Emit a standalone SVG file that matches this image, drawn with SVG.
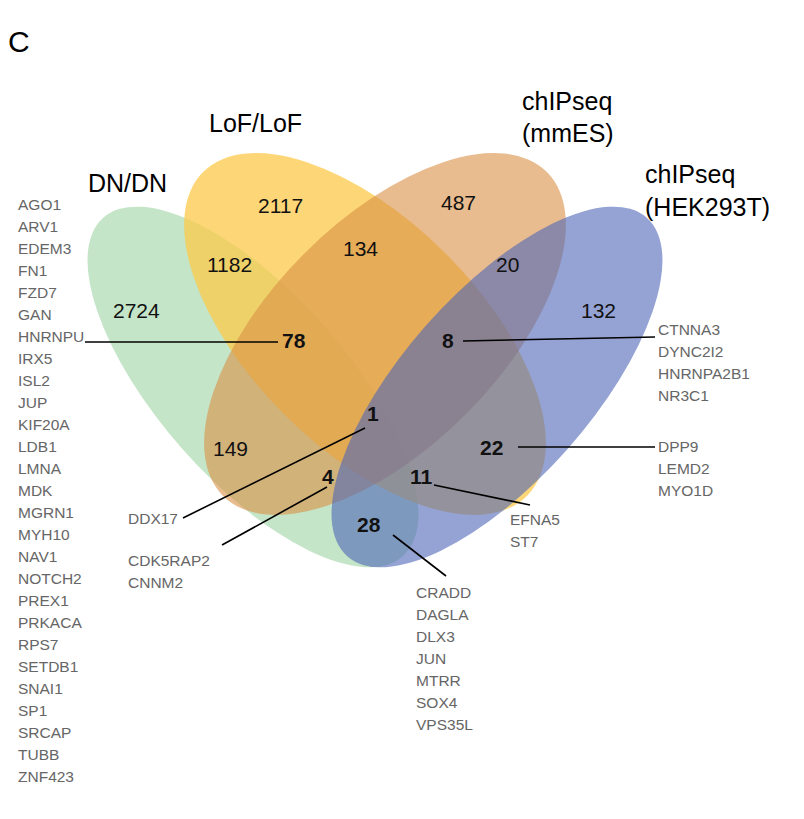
<svg xmlns="http://www.w3.org/2000/svg" width="804" height="819" viewBox="0 0 804 819">
<style>
text{font-family:"Helvetica","Liberation Sans",Arial,sans-serif}
.t{font-size:25px;fill:#000}
.n{font-size:21px;fill:#111}
.b{font-weight:bold}
.g{font-size:15.5px;fill:#666}
.e{stroke:none}
.c line{stroke:#000;stroke-width:1.6}
</style>
<rect width="804" height="819" fill="#fff"/>
<text x="8" y="52" style="font-size:30px">C</text>
<g id="dn"><ellipse class="e" cx="253" cy="387" rx="226" ry="94" transform="rotate(48.5 253 387)" fill="#9fd3a4" fill-opacity="0.6"/></g>
<g id="lof"><ellipse class="e" cx="365" cy="334" rx="229" ry="114" transform="rotate(45 365 334)" fill="#fcc94a" fill-opacity="0.75"/></g>
<g id="mmes"><ellipse class="e" cx="385" cy="334" rx="229" ry="114" transform="rotate(-45 385 334)" fill="#d98f45" fill-opacity="0.6"/></g>
<g id="hek"><ellipse class="e" cx="497" cy="387" rx="226" ry="94" transform="rotate(-48.5 497 387)" fill="#4f66b8" fill-opacity="0.6"/></g>
<text class="t" x="88" y="192">DN/DN</text>
<text class="t" x="209" y="132">LoF/LoF</text>
<text class="t" x="522" y="110">chIPseq</text>
<text class="t" x="522" y="142">(mmES)</text>
<text class="t" x="645" y="183">chIPseq</text>
<text class="t" x="645" y="216">(HEK293T)</text>
<g class="n">
<text x="258" y="213">2117</text>
<text x="441" y="210">487</text>
<text x="207" y="272">1182</text>
<text x="343" y="256">134</text>
<text x="496" y="272">20</text>
<text x="113" y="318">2724</text>
<text x="581" y="318">132</text>
<text class="b" x="282" y="348">78</text>
<text class="b" x="442" y="348">8</text>
<text class="b" x="367" y="421">1</text>
<text x="213" y="456">149</text>
<text class="b" x="480" y="455">22</text>
<text class="b" x="322" y="484">4</text>
<text class="b" x="410" y="484">11</text>
<text class="b" x="357" y="532">28</text>
</g>
<g class="c">
<line x1="85" y1="342" x2="278" y2="342"/>
<line x1="463" y1="341" x2="655" y2="337"/>
<line x1="365" y1="428" x2="183" y2="518"/>
<line x1="327" y1="487" x2="222" y2="545"/>
<line x1="434" y1="485" x2="530" y2="505"/>
<line x1="393" y1="535" x2="446" y2="576"/>
<line x1="518" y1="447" x2="655" y2="447"/>
</g>
<g class="g">
<text x="18" y="210">AGO1</text><text x="18" y="232">ARV1</text><text x="18" y="254">EDEM3</text><text x="18" y="276">FN1</text><text x="18" y="298">FZD7</text><text x="18" y="320">GAN</text><text x="18" y="342">HNRNPU</text><text x="18" y="364">IRX5</text><text x="18" y="386">ISL2</text><text x="18" y="408">JUP</text><text x="18" y="430">KIF20A</text><text x="18" y="452">LDB1</text><text x="18" y="474">LMNA</text><text x="18" y="496">MDK</text><text x="18" y="518">MGRN1</text><text x="18" y="540">MYH10</text><text x="18" y="562">NAV1</text><text x="18" y="584">NOTCH2</text><text x="18" y="606">PREX1</text><text x="18" y="628">PRKACA</text><text x="18" y="650">RPS7</text><text x="18" y="672">SETDB1</text><text x="18" y="694">SNAI1</text><text x="18" y="716">SP1</text><text x="18" y="738">SRCAP</text><text x="18" y="760">TUBB</text><text x="18" y="782">ZNF423</text>
<text x="658" y="335">CTNNA3</text><text x="658" y="357">DYNC2I2</text><text x="658" y="379">HNRNPA2B1</text><text x="658" y="401">NR3C1</text>
<text x="658" y="452">DPP9</text><text x="658" y="474">LEMD2</text><text x="658" y="496">MYO1D</text>
<text x="128" y="524">DDX17</text>
<text x="128" y="566">CDK5RAP2</text><text x="128" y="588">CNNM2</text>
<text x="510" y="525">EFNA5</text><text x="510" y="547">ST7</text>
<text x="416" y="598">CRADD</text><text x="416" y="620">DAGLA</text><text x="416" y="642">DLX3</text><text x="416" y="664">JUN</text><text x="416" y="686">MTRR</text><text x="416" y="708">SOX4</text><text x="416" y="730">VPS35L</text>
</g>
</svg>
